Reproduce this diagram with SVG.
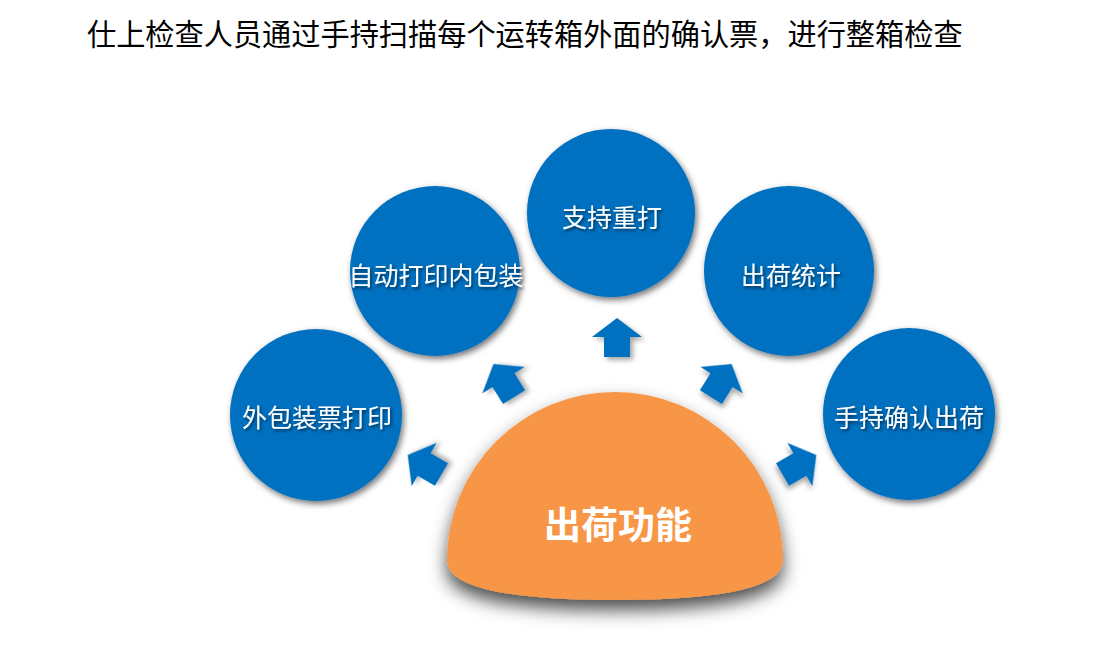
<svg xmlns="http://www.w3.org/2000/svg" width="1111" height="651" viewBox="0 0 1111 651">
<defs>
<filter id="cs" x="-20%" y="-20%" width="150%" height="150%">
<feDropShadow dx="2" dy="3" stdDeviation="3" flood-color="#000" flood-opacity="0.55"/>
</filter>
<filter id="as" x="-40%" y="-40%" width="180%" height="180%">
<feDropShadow dx="3" dy="3" stdDeviation="2.5" flood-color="#000" flood-opacity="0.35"/>
</filter>
<filter id="os" x="-20%" y="-30%" width="140%" height="170%">
<feDropShadow dx="0" dy="10" stdDeviation="9" flood-color="#000" flood-opacity="0.7"/>
</filter>
<filter id="ts" x="-10%" y="-30%" width="120%" height="160%">
<feDropShadow dx="1.5" dy="2" stdDeviation="1.5" flood-color="#000" flood-opacity="0.55"/>
</filter>
<path id="arrow" d="M0,-20 L25,-1 L13,-1 L13,19 L-13,19 L-13,-1 L-25,-1 Z"/>
</defs>
<style>
.c{fill:#0070C0;filter:url(#cs)}
.t{fill:#fff;font-family:"Noto Sans CJK SC","Noto Sans CJK JP",sans-serif;font-size:25px;text-anchor:middle;dominant-baseline:central;filter:url(#ts)}
.a{fill:#0070C0;filter:url(#as)}
</style>
<rect width="1111" height="651" fill="#fff"/>
<text x="87" y="45" font-family="Noto Sans CJK SC, Noto Sans CJK JP, sans-serif" font-size="29.2" fill="#000">仕上检查人员通过手持扫描每个运转箱外面的确认票，进行整箱检查</text>
<g id="node-center">
<path d="M447,560 A168,168 0 0 1 783,560 Q783,600 615,600 Q447,600 447,560 Z" fill="#F79646" filter="url(#os)"/>
<text x="618" y="523" fill="#fff" font-family="Noto Sans CJK SC, Noto Sans CJK JP, sans-serif" font-size="37" font-weight="bold" text-anchor="middle" dominant-baseline="central">出荷功能</text>
</g>
<g id="node-outer-print">
<circle class="c" cx="316" cy="415" r="86"/>
<text class="t" x="317" y="416">外包装票打印</text>
</g>
<g id="node-inner-print">
<circle class="c" cx="435" cy="271" r="85"/>
<text class="t" x="436" y="274">自动打印内包装</text>
</g>
<g id="node-reprint">
<circle class="c" cx="611" cy="213" r="84"/>
<text class="t" x="612" y="216">支持重打</text>
</g>
<g id="node-stats">
<circle class="c" cx="789" cy="271" r="85"/>
<text class="t" x="791" y="274">出荷统计</text>
</g>
<g id="node-confirm">
<circle class="c" cx="909" cy="414" r="86"/>
<text class="t" x="909" y="416">手持确认出荷</text>
</g>
<g id="connectors">
<use href="#arrow" class="a" transform="translate(425,465) rotate(-60)"/>
<use href="#arrow" class="a" transform="translate(504,381) rotate(-32)"/>
<use href="#arrow" class="a" transform="translate(617,338)"/>
<use href="#arrow" class="a" transform="translate(721,381) rotate(32)"/>
<use href="#arrow" class="a" transform="translate(799,465) rotate(60)"/>
</g>
</svg>
